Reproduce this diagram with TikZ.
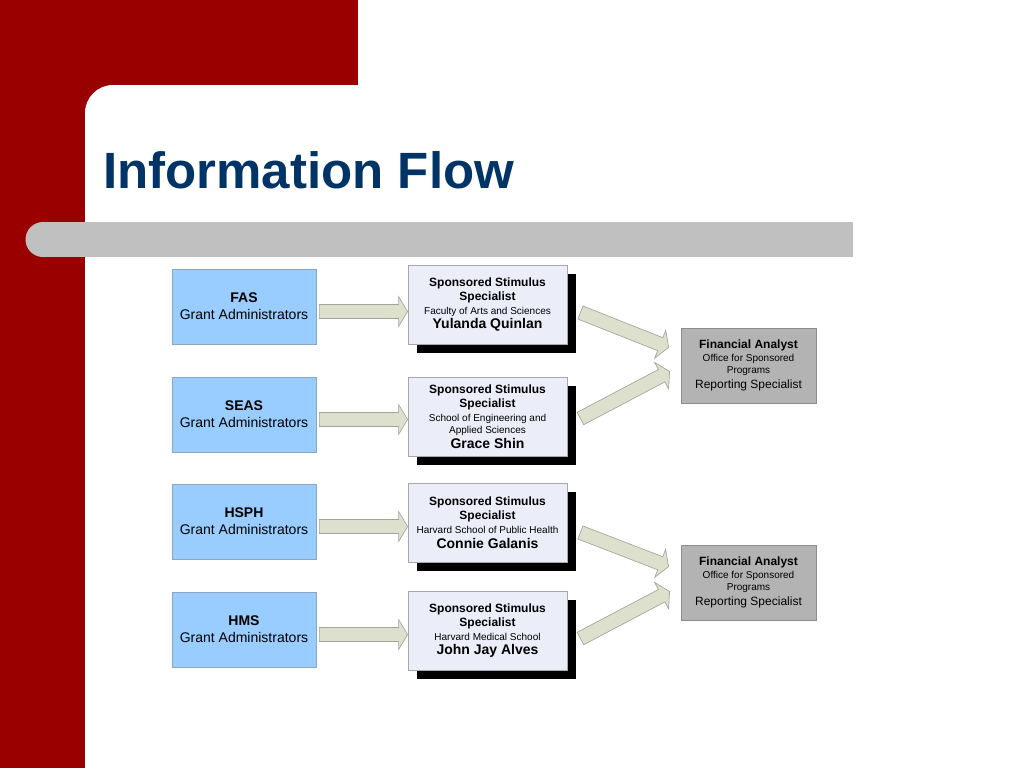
\documentclass[tikz,border=0pt]{standalone}
\usepackage{fontspec}
\setmainfont{Liberation Sans}
\usetikzlibrary{calc,shadows}

\definecolor{slidered}{HTML}{990000}
\definecolor{bargray}{HTML}{C0C0C0}
\definecolor{titleblue}{HTML}{003366}
\definecolor{adminblue}{HTML}{99CCFF}
\definecolor{adminline}{HTML}{8AA6C1}
\definecolor{specfill}{HTML}{EBEDF8}
\definecolor{specline}{HTML}{A8A8A8}
\definecolor{arrowfill}{HTML}{DDE0CD}
\definecolor{arrowline}{HTML}{A3A59A}
\definecolor{analystfill}{HTML}{B3B3B3}
\definecolor{analystline}{HTML}{8C8C8C}

\newcommand{\sz}[2]{\fontsize{#1}{#2}\selectfont}

% outlined block arrow from #1 (tail) to #2 (tip)
\newcommand{\blockarr}[2]{%
  \coordinate (bt) at (#1);
  \coordinate (bh) at (#2);
  \coordinate (bb) at ($(bh)!6.75pt!(bt)$);
  \draw[blockarrow] ($(bt)!5.25pt!90:(bh)$) -- ($(bb)!5.25pt!-90:(bt)$)
    -- ($(bb)!11.25pt!-90:(bt)$) -- (bh) -- ($(bb)!11.25pt!90:(bt)$)
    -- ($(bb)!5.25pt!90:(bt)$) -- ($(bt)!5.25pt!-90:(bh)$) -- cycle;}

\tikzset{
  adminbox/.style={draw=adminline, fill=adminblue, line width=0.6pt,
    minimum width=108pt, minimum height=56.25pt, align=center, inner sep=0pt,
    font=\sz{10.5pt}{12.75pt}},
  specbox/.style={draw=specline, fill=specfill, line width=0.6pt,
    minimum width=119.25pt, minimum height=59.25pt, align=center, inner sep=0pt,
    font=\sz{9pt}{10.5pt},
    drop shadow={shadow xshift=7pt, shadow yshift=-7pt, fill=black, opacity=1}},
  analystbox/.style={draw=analystline, fill=analystfill, line width=0.6pt,
    minimum width=101.25pt, minimum height=56.25pt, align=center, inner sep=0pt,
    font=\sz{9pt}{9.5pt}},
  blockarrow/.style={draw=arrowline, fill=arrowfill, line width=0.5pt, line join=miter},
}

\begin{document}
\begin{tikzpicture}[x=0.75pt, y=-0.75pt]
  \useasboundingbox (0,0) rectangle (1024,768);
  \fill[white] (0,0) rectangle (1024,768);

  % slide frame
  \fill[slidered] (0,0) rectangle (358,85);
  \fill[slidered] (0,0) rectangle (85,768);
  \fill[slidered] (85,85) rectangle (120,120);
  \fill[white] (85,200) [rounded corners=21pt] -- (85,85) -- (200,85) [sharp corners] -- (200,200) -- cycle;
  \fill[bargray] (43,222) rectangle (853,257);
  \fill[bargray] (43,239.5) circle[radius=13.125pt];

  \node[anchor=base west, inner sep=0pt, text=titleblue, font=\sz{38.25pt}{40pt}\bfseries] (title) at (103,188) {Information Flow};

  % schools
  \node[adminbox] (fas) at (244,306.5) {\textbf{FAS}\\Grant Administrators};
  \node[adminbox] (seas) at (244,414.5) {\textbf{SEAS}\\Grant Administrators};
  \node[adminbox] (hsph) at (244,521.5) {\textbf{HSPH}\\Grant Administrators};
  \node[adminbox] (hms) at (244,629.5) {\textbf{HMS}\\Grant Administrators};

  % specialists
  \node[specbox] (sfas) at (487.5,304.5) {\textbf{Sponsored Stimulus}\\\textbf{Specialist}\\
    {\sz{7.5pt}{9pt}Faculty of Arts and Sciences}\\[0.5pt]{\sz{10.5pt}{12pt}\bfseries Yulanda Quinlan}};
  \node[specbox] (sseas) at (487.5,416.5) {\textbf{Sponsored Stimulus}\\\textbf{Specialist}\\
    {\sz{7.5pt}{9pt}School of Engineering and}\\[-1.5pt]{\sz{7.5pt}{9pt}Applied Sciences}\\[0.5pt]{\sz{10.5pt}{12pt}\bfseries Grace Shin}};
  \node[specbox] (shsph) at (487.5,522.5) {\textbf{Sponsored Stimulus}\\\textbf{Specialist}\\
    {\sz{7.5pt}{9pt}Harvard School of Public Health}\\[0.5pt]{\sz{10.5pt}{12pt}\bfseries Connie Galanis}};
  \node[specbox] (shms) at (487.5,630.5) {\textbf{Sponsored Stimulus}\\\textbf{Specialist}\\
    {\sz{7.5pt}{9pt}Harvard Medical School}\\[0.5pt]{\sz{10.5pt}{12pt}\bfseries John Jay Alves}};

  % analysts
  \node[analystbox] (fa1) at (748.5,365.5) {\textbf{Financial Analyst}\\{\sz{7.5pt}{9pt}Office for Sponsored}\\
    {\sz{7.5pt}{9pt}Programs}\\[1.5pt]Reporting Specialist};
  \node[analystbox] (fa2) at (748.5,582.5) {\textbf{Financial Analyst}\\{\sz{7.5pt}{9pt}Office for Sponsored}\\
    {\sz{7.5pt}{9pt}Programs}\\[1.5pt]Reporting Specialist};

  % flow
  \blockarr{[shift={(3,5)}]fas.east}{bt -| sfas.west}
  \blockarr{[shift={(3,5)}]seas.east}{bt -| sseas.west}
  \blockarr{[shift={(3,5)}]hsph.east}{bt -| shsph.west}
  \blockarr{[shift={(3,5)}]hms.east}{bt -| shms.west}
  \blockarr{[shift={(13,8)}]sfas.east}{[shift={(-12,-18)}]fa1.west}
  \blockarr{[shift={(13,2)}]sseas.east}{[shift={(-11,6)}]fa1.west}
  \blockarr{[shift={(13,10)}]shsph.east}{[shift={(-12,-16)}]fa2.west}
  \blockarr{[shift={(13,8)}]shms.east}{[shift={(-11,9)}]fa2.west}
\end{tikzpicture}
\end{document}
